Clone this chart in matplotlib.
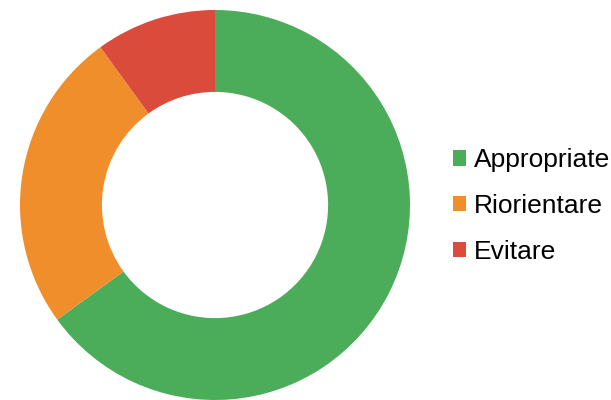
import matplotlib.pyplot as plt
from matplotlib.patches import Patch

# Date
categorii = ["Appropriate", "Riorientare", "Evitare"]
valori = [65, 25, 10]
culori = ["#4bad5a", "#f18e2c", "#db4b3b"]

plt.rcParams['font.family'] = ['Liberation Sans', 'DejaVu Sans']

fig = plt.figure(figsize=(6.11, 4.0), dpi=100)
ax = fig.add_axes([20 / 611, 10 / 400 - 0.025, 390 / 611, 390 / 400])

ax.pie(
    valori,
    colors=culori,
    startangle=90,
    counterclock=False,
    radius=1,
    wedgeprops=dict(width=0.42, edgecolor='none')
)
ax.set_xlim(-1, 1)
ax.set_ylim(-1, 1)
ax.set_aspect('equal')
ax.axis('off')

handles = [Patch(facecolor=c, edgecolor='none') for c in culori]
fig.legend(
    handles, categorii,
    loc='center left',
    bbox_to_anchor=(442 / 611, 1 - 206 / 400),
    frameon=False,
    fontsize=19,
    borderaxespad=0,
    handlelength=0.5,
    handleheight=0.5,
    handletextpad=0.3,
    labelspacing=0.82,
)

fig.savefig("out.png", dpi=100)
